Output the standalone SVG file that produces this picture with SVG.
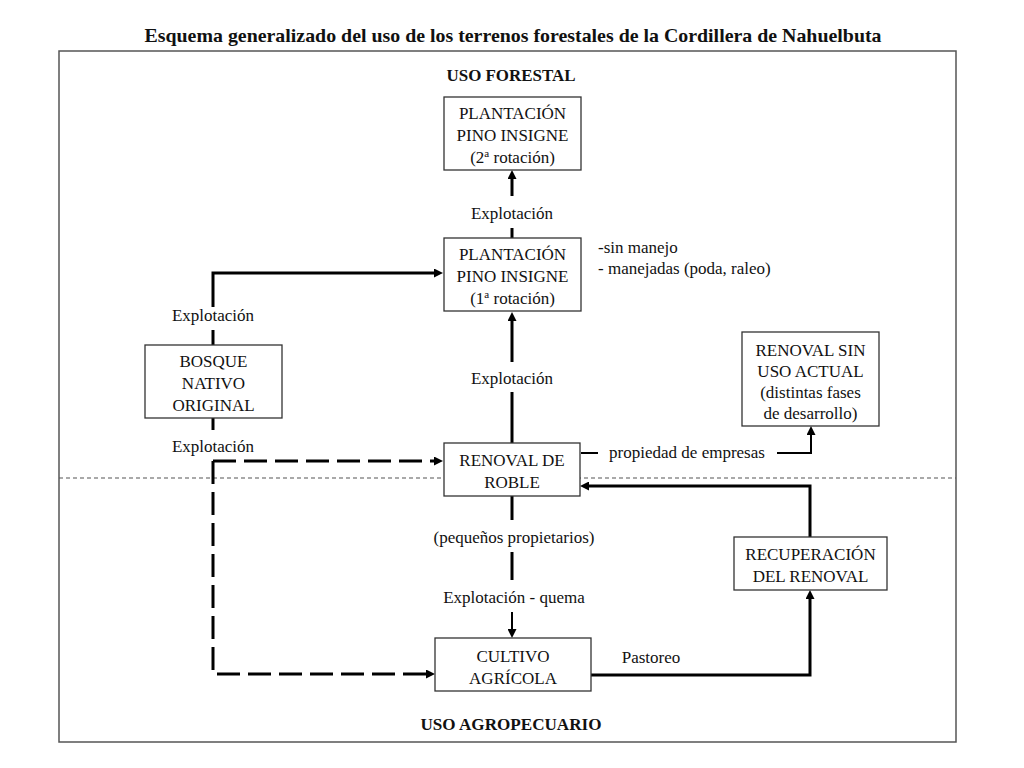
<svg xmlns="http://www.w3.org/2000/svg" width="1024" height="768" viewBox="0 0 1024 768">
<style>
text{font-family:"Liberation Serif","Times New Roman",serif;fill:#111;}
.t{font-size:17px;text-anchor:middle;}
.h{font-weight:bold;text-anchor:middle;}
.box{fill:#fff;stroke:#333;stroke-width:1.3;}
.c{fill:none;stroke:#000;stroke-width:3;}
.thin{stroke-width:2;}
.dash{stroke-dasharray:23 8;}
</style>
<defs>
<marker id="arr" viewBox="0 0 9 9" markerWidth="9" markerHeight="9" refX="3" refY="4.5" markerUnits="userSpaceOnUse" orient="auto">
<path d="M0,0 L9,4.5 L0,9 z" fill="#000"/>
</marker>
</defs>
<rect width="1024" height="768" fill="#fff"/>
<text class="h" x="513" y="42" font-size="19" textLength="737" lengthAdjust="spacingAndGlyphs">Esquema generalizado del uso de los terrenos forestales de la Cordillera de Nahuelbuta</text>
<rect x="59" y="51" width="897" height="691" fill="none" stroke="#555" stroke-width="1.5"/>
<line x1="59" y1="478" x2="956" y2="478" stroke="#555" stroke-width="1.2" stroke-dasharray="4 3"/>
<text class="h" x="511" y="81" font-size="16" textLength="129" lengthAdjust="spacingAndGlyphs">USO FORESTAL</text>
<text class="h" x="511" y="730" font-size="16" textLength="181" lengthAdjust="spacingAndGlyphs">USO AGROPECUARIO</text>

<g id="connectors">
<path class="c" d="M512,443 V392"/>
<path class="c" d="M512,362 V318" marker-end="url(#arr)"/>
<text class="t" x="512" y="384">Explotación</text>
<path class="c" d="M512,238 V228"/>
<path class="c" d="M512,196 V176" marker-end="url(#arr)"/>
<text class="t" x="512" y="219">Explotación</text>
<path class="c" d="M213,345 V330"/>
<path class="c" d="M213,307 V273 H437" marker-end="url(#arr)"/>
<text class="t" x="213" y="321">Explotación</text>
<path class="c" d="M213,418 V430"/>
<text class="t" x="213" y="452">Explotación</text>
<path class="c dash" d="M213,461 H437" marker-end="url(#arr)"/>
<path class="c dash" d="M213,461 V674 H429" marker-end="url(#arr)"/>
<path class="c" d="M512,496 V520"/>
<text class="t" x="514" y="543">(pequeños propietarios)</text>
<path class="c" d="M512,552 V580"/>
<text class="t" x="514" y="603">Explotación - quema</text>
<path class="c thin" d="M512,612 V632" marker-end="url(#arr)"/>
<path class="c thin" d="M581,453 H598"/>
<text class="t" x="687" y="458">propiedad de empresas</text>
<path class="c thin" d="M777,453 H811 V432" marker-end="url(#arr)"/>
<path class="c" d="M810,537 V486 H586" marker-end="url(#arr)"/>
<path class="c" d="M591,675 H810 V596" marker-end="url(#arr)"/>
<text class="t" x="651" y="663">Pastoreo</text>
</g>

<g id="plantacion2">
<rect class="box" x="444" y="97" width="137" height="73"/>
<text class="t" x="512.5" y="119">PLANTACIÓN</text>
<text class="t" x="512.5" y="141">PINO INSIGNE</text>
<text class="t" x="512.5" y="163">(2<tspan font-size="11" dy="-6">a</tspan><tspan dy="6"> rotación)</tspan></text>
</g>
<g id="plantacion1">
<rect class="box" x="444" y="238" width="137" height="73"/>
<text class="t" x="512.5" y="260">PLANTACIÓN</text>
<text class="t" x="512.5" y="282">PINO INSIGNE</text>
<text class="t" x="512.5" y="304">(1<tspan font-size="11" dy="-6">a</tspan><tspan dy="6"> rotación)</tspan></text>
</g>
<g id="nota">
<text x="598" y="253" font-size="17">-sin manejo</text>
<text x="598" y="274" font-size="17">- manejadas (poda, raleo)</text>
</g>
<g id="bosque">
<rect class="box" x="145" y="345" width="137" height="73"/>
<text class="t" x="213.5" y="367">BOSQUE</text>
<text class="t" x="213.5" y="389">NATIVO</text>
<text class="t" x="213.5" y="411">ORIGINAL</text>
</g>
<g id="renovalsinuso">
<rect class="box" x="742" y="332" width="137" height="94"/>
<text class="t" x="810.5" y="356">RENOVAL SIN</text>
<text class="t" x="810.5" y="377">USO ACTUAL</text>
<text class="t" x="810.5" y="398">(distintas fases</text>
<text class="t" x="810.5" y="419">de desarrollo)</text>
</g>
<g id="renovalroble">
<rect class="box" x="444" y="443" width="136" height="53"/>
<text class="t" x="512" y="466">RENOVAL DE</text>
<text class="t" x="512" y="488">ROBLE</text>
</g>
<g id="recuperacion">
<rect class="box" x="734" y="537" width="153" height="53"/>
<text class="t" x="810.5" y="560">RECUPERACIÓN</text>
<text class="t" x="810.5" y="582">DEL RENOVAL</text>
</g>
<g id="cultivo">
<rect class="box" x="435" y="638" width="156" height="53"/>
<text class="t" x="513" y="662">CULTIVO</text>
<text class="t" x="513" y="684">AGRÍCOLA</text>
</g>
</svg>
